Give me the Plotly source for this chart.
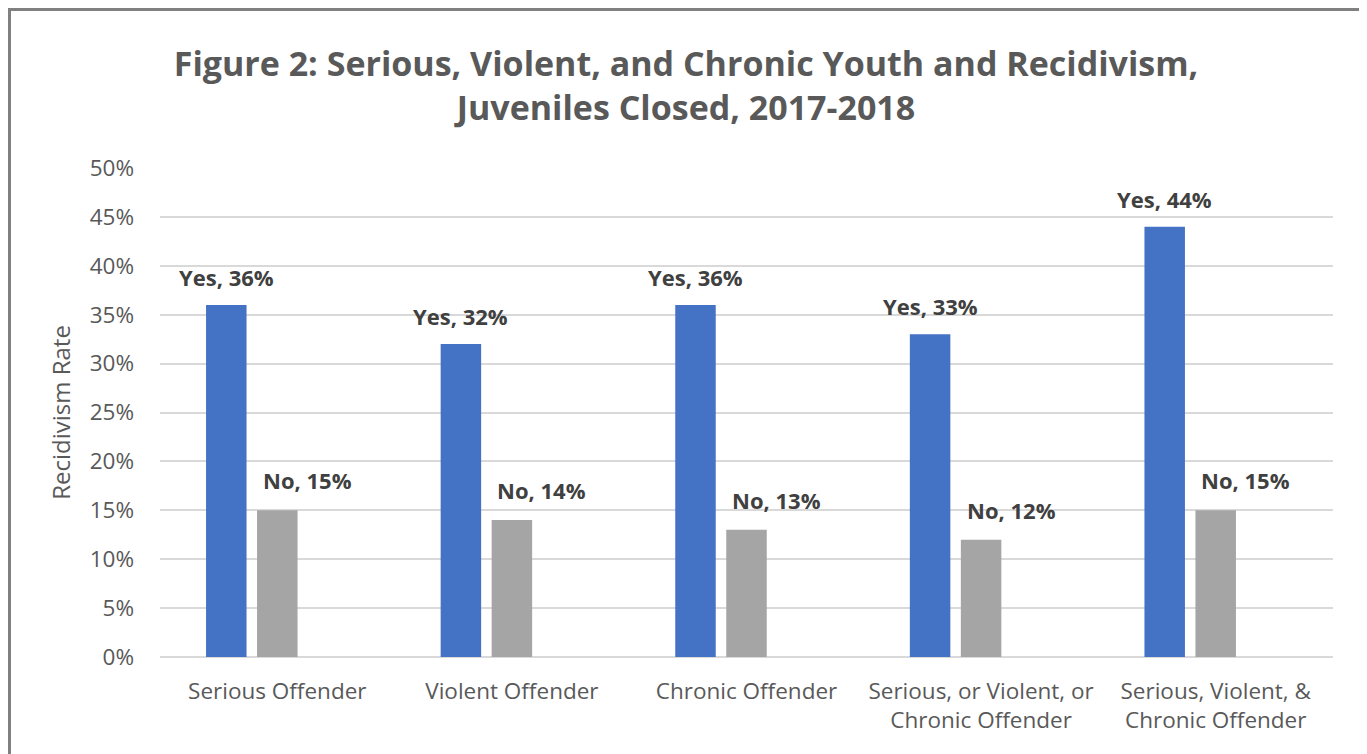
import plotly.graph_objects as go

categories = ["Serious Offender", "Violent Offender", "Chronic Offender",
              "Serious, or Violent, or<br>Chronic Offender",
              "Serious, Violent, &<br>Chronic Offender"]
yes_values = [0.36, 0.32, 0.36, 0.33, 0.44]
no_values = [0.15, 0.14, 0.13, 0.12, 0.15]
series_names = ["Yes", "No"]
tick_vals = [0, 0.05, 0.10, 0.15, 0.20, 0.25, 0.30, 0.35, 0.40, 0.45, 0.50]
tick_text = ["0%", "5%", "10%", "15%", "20%", "25%", "30%", "35%", "40%", "45%", "50%"]

BLUE = "#4472C4"
GRAY = "#A5A5A5"
FONT = "Open Sans"

# page body has an 8px margin; figure is sized to fit the window
W, H = 1359, 746
L, R, T, B = 152, 34, 160, 97
pw, ph = W - L - R, H - T - B

bar_w = 0.1726
fig = go.Figure()
fig.add_trace(go.Bar(x=categories, y=yes_values, name=series_names[0],
                     marker=dict(color=BLUE, line=dict(width=0)),
                     width=bar_w, offset=-0.2174 - bar_w / 2))
fig.add_trace(go.Bar(x=categories, y=no_values, name=series_names[1],
                     marker=dict(color=GRAY, line=dict(width=0)),
                     width=bar_w, offset=-bar_w / 2))

ann = []
for c, v in zip(categories, yes_values):
    ann.append(dict(x=c, y=v, xref="x", yref="y", text=f"{series_names[0]}, {round(v*100)}%",
                    showarrow=False, xshift=-51, yshift=28, yanchor="middle",
                    font=dict(family=FONT, size=22, color="#404040", weight="bold")))
for c, v in zip(categories, no_values):
    ann.append(dict(x=c, y=v, xref="x", yref="y", text=f"{series_names[1]}, {round(v*100)}%",
                    showarrow=False, xshift=30, yshift=30, yanchor="middle",
                    font=dict(family=FONT, size=22, color="#404040", weight="bold")))

def px_x(p):
    return (p - L) / pw
def px_y(p):
    return (H - B - p) / ph

# chart-area frame
fig.add_shape(type="rect", xref="paper", yref="paper",
              x0=px_x(1), x1=px_x(1353), y0=px_y(800), y1=px_y(1),
              fillcolor="white", line=dict(color="#808080", width=4), layer="below")

fig.update_layout(
    width=W, height=H,
    margin=dict(l=L, r=R, t=T, b=B),
    paper_bgcolor="#E7E7E7", plot_bgcolor="rgba(0,0,0,0)",
    barmode="overlay", showlegend=False,
    title=dict(text="Figure 2: Serious, Violent, and Chronic Youth and Recidivism,<br>Juveniles Closed, 2017-2018",
               x=(686 - 8) / W, xanchor="center", y=1 - 68 / H, yanchor="middle",
               font=dict(family=FONT, size=34, color="#595959", weight="bold")),
    xaxis=dict(showgrid=False, showline=False, zeroline=False, ticks="",
               ticklabelstandoff=18,
               tickfont=dict(family=FONT, size=22.5, color="#595959")),
    yaxis=dict(range=[0, 0.5], tickvals=tick_vals, ticktext=tick_text,
               showgrid=True, gridcolor="#D9D9D9", gridwidth=1.5,
               zeroline=True, zerolinecolor="#D9D9D9", zerolinewidth=1.5,
               showline=False, ticks="", ticklabelstandoff=25,
               tickfont=dict(family=FONT, size=22.5, color="#595959"),
               title=dict(text="Recidivism Rate", standoff=12,
                          font=dict(family=FONT, size=24, color="#595959"))),
    annotations=ann,
)

fig.write_html("out.html")
